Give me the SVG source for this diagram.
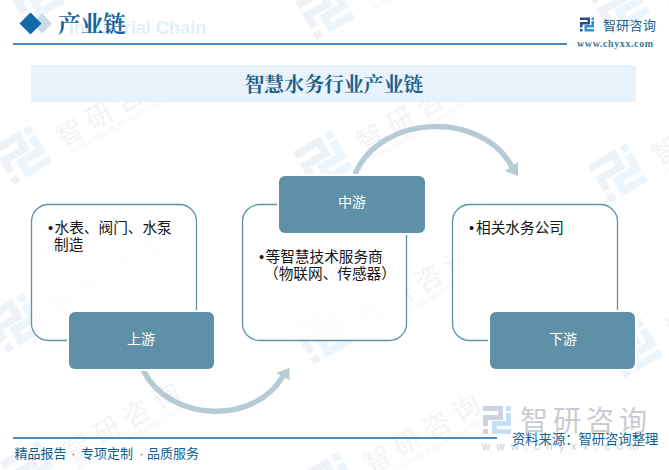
<svg xmlns="http://www.w3.org/2000/svg" width="669" height="470" viewBox="0 0 669 470">
<defs>
<style>
.sans{font-family:"Liberation Sans","Noto Sans CJK SC",sans-serif}
.serif{font-family:"Noto Serif CJK SC","Liberation Serif","Noto Sans CJK SC",serif}
.card{fill:#fff;fill-opacity:.8;stroke:#5e91a8;stroke-width:1.3}
.gap{fill:#fff}
.head{fill:#5e91a8}
.headt{font-family:"Liberation Sans","Noto Sans CJK SC",sans-serif;font-size:14px;fill:#fff;text-anchor:middle}
.body{font-family:"Liberation Sans","Noto Sans CJK SC",sans-serif;font-size:14.67px;fill:#151515}
.arc{fill:none;stroke:#b7cbd5;stroke-width:5.5}
.arh{fill:#b7cbd5}
.wm{font-family:"Noto Sans CJK SC",sans-serif;font-size:27px;fill:#f2f4f6;letter-spacing:7px}
.wms{font-family:"Liberation Sans",sans-serif;font-size:7px;fill:#f2f4f6;letter-spacing:.3px}
.rule{stroke:#0f669f;stroke-width:1.3}
.foot{font-size:13px;fill:#0f5f94}
</style>
<path id="logoA" d="M0 0H20V14H5V20H0V9H15V5H0ZM0 23H5V28H0Z"/>
<path id="logoB" d="M23 0H28V5H23ZM23 7H28V20H14V23H28V28H9V15H23Z"/>
<g id="wm">
<g transform="scale(1.57) translate(-14 -14)">
<use href="#logoA" fill="#eef2f6"/>
<use href="#logoB" fill="#ecf5fb"/>
</g>
<text class="wm" x="39" y="14">智研咨询</text>
<text class="wms" x="42" y="25">INTELLIGENCE RESEARCH GROUP</text>
</g>
</defs>
<rect width="669" height="470" fill="#fff"/>
<g id="watermarks">
<use href="#wm" transform="translate(35 -5) rotate(-30)"/>
<use href="#wm" transform="translate(325 10) rotate(-30)"/>
<use href="#wm" transform="translate(620 5) rotate(-30)"/>
<use href="#wm" transform="translate(22 155) rotate(-30)"/>
<use href="#wm" transform="translate(323 160) rotate(-30)"/>
<use href="#wm" transform="translate(618 173) rotate(-30)"/>
<use href="#wm" transform="translate(15 323) rotate(-30)"/>
<use href="#wm" transform="translate(322 335) rotate(-30)"/>
<use href="#wm" transform="translate(633 348) rotate(-30)"/>
<use href="#wm" transform="translate(30 470) rotate(-30)"/>
<use href="#wm" transform="translate(330 482) rotate(-30)"/>
</g>
<g id="header">
<path d="M42 13.500 L52 23.500 L42 33.500 L32 23.500 Z" fill="#c9dde9"/>
<path d="M30.500 12.500 L41.500 23.500 L30.500 34.500 L19.500 23.500 Z" fill="#1169a8"/>
<text class="sans" x="69" y="34" font-size="18.200" font-weight="700" fill="#e3eff8">Industrial Chain</text>
<text class="serif" x="58" y="32" font-size="22.700" font-weight="700" fill="#17649b">产业链</text>
<line class="rule" x1="13" y1="44" x2="567" y2="44"/>
<rect x="31" y="65" width="605" height="37" fill="#e7f2fa"/>
<text class="serif" x="334" y="92" font-size="19.900" font-weight="700" fill="#1c5f8c" text-anchor="middle">智慧水务行业产业链</text>
</g>
<g id="brand">
<g transform="translate(580 17.500) scale(.5)">
<use href="#logoA" fill="#2c4a90"/>
<use href="#logoB" fill="#2f8fd6"/>
</g>
<text class="sans" x="603" y="30" font-size="13" fill="#1c5f8c" letter-spacing=".3">智研咨询</text>
<text x="577" y="47" font-family="Liberation Serif,serif" font-size="10" font-weight="700" fill="#3d7aa0" letter-spacing=".6">www.chyxx.com</text>
</g>
<g id="connectors">
<path class="arc" d="M143 370 C170 424 256 424 283 376"/>
<path class="arh" d="M289.500 368 L289.500 380 L276 373 Z"/>
<path class="arc" d="M355 174 C382 112 484 112 512 167"/>
<path class="arh" d="M518 162 L518 176 L505 171 Z"/>
</g>
<g id="node-upstream">
<rect class="card" x="31.500" y="204.500" width="165" height="136" rx="17"/>
<text class="body" x="48" y="233">•<tspan x="54.500">水表、阀门、水泵</tspan></text>
<text class="body" x="54" y="250">制造</text>
<rect class="gap" x="67" y="310" width="149" height="61"/>
<rect class="head" x="69" y="312" width="145" height="57" rx="6"/>
<text class="headt" x="141" y="344">上游</text>
</g>
<g id="node-midstream">
<rect class="card" x="242.500" y="204.500" width="164" height="136" rx="17"/>
<rect class="gap" x="277" y="174" width="150" height="61"/>
<rect class="head" x="279" y="176" width="146" height="57" rx="6"/>
<text class="headt" x="352" y="207">中游</text>
<text class="body" x="259" y="261.500">•<tspan x="265.500">等智慧技术服务商</tspan></text>
<text class="body" x="264" y="279">（物联网、传感器）</text>
</g>
<g id="node-downstream">
<rect class="card" x="452.500" y="204.500" width="165" height="136" rx="17"/>
<text class="body" x="469" y="233">•<tspan x="476">相关水务公司</tspan></text>
<rect class="gap" x="488" y="310" width="149" height="61"/>
<rect class="head" x="490" y="312" width="145" height="57" rx="6"/>
<text class="headt" x="563" y="344">下游</text>
</g>
<g id="footer">
<g transform="translate(483 406)">
<use href="#logoA" fill="#cdd3e3"/>
<use href="#logoB" fill="#c6e0f3"/>
</g>
<text x="520" y="431" font-family="Noto Sans CJK SC,sans-serif" font-size="28" fill="#c9cdd1" letter-spacing="5">智研咨询</text>
<text x="482" y="450" font-family="Liberation Sans,sans-serif" font-size="11" fill="#c9cdd1" letter-spacing="6.500">www.chyxx.com</text>
<line class="rule" x1="13" y1="438" x2="497" y2="438"/>
<text class="sans foot" y="458"><tspan x="14.500">精品报告</tspan><tspan x="71">·</tspan><tspan x="81">专项定制</tspan><tspan x="139">·</tspan><tspan x="147">品质服务</tspan></text>
<text class="sans foot" x="512" y="444" style="font-size:13.300px">资料来源：智研咨询整理</text>
</g>
</svg>
